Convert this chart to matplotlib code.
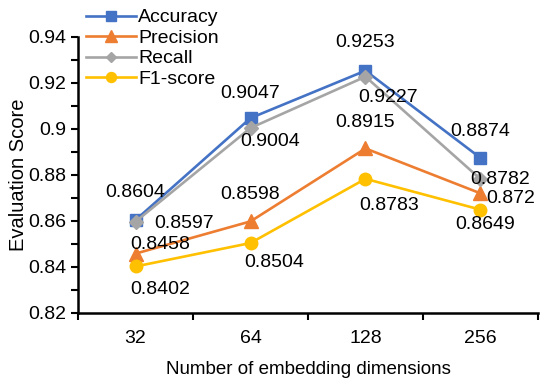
import numpy as np
import matplotlib.pyplot as plt
from matplotlib.ticker import MultipleLocator

plt.rcParams['font.family'] = ['Liberation Sans', 'DejaVu Sans']

dims = ['32', '64', '128', '256']
accuracy = [0.8604, 0.9047, 0.9253, 0.8874]
precision = [0.8458, 0.8598, 0.8915, 0.872]
recall = [0.8597, 0.9004, 0.9227, 0.8782]
f1 = [0.8402, 0.8504, 0.8783, 0.8649]

series = [
    ('Accuracy', accuracy, '#4472C4', 's', 9),
    ('Precision', precision, '#ED7D31', '^', 10),
    ('Recall', recall, '#A5A5A5', 'D', 7),
    ('F1-score', f1, '#FFC000', 'o', 9),
]

# label offsets (points) for each series / point
offsets = {
    'Accuracy': [(0, 20), (0, 18), (0, 20), (0, 19)],
    'Precision': [(18, 6.5), (0, 19), (0, 19), (22, -3.6)],
    'Recall': [(35, -1.5), (14, -10), (16, -15), (14, 0)],
    'F1-score': [(18, -16.5), (17, -14), (17, -19), (3.6, -11)],
}

fig = plt.figure(figsize=(5.5, 3.84), dpi=100)
ax = fig.add_axes([0.142, 0.185, 0.836, 0.719])

x = np.arange(len(dims))
for name, vals, col, mk, ms in series:
    ax.plot(x, vals, color=col, marker=mk, markersize=ms, linewidth=1.9, label=name)
    for i, v in enumerate(vals):
        dx, dy = offsets[name][i]
        ax.annotate(str(v), (x[i], v), xytext=(dx, dy), textcoords='offset points',
                    ha='center', va='center', fontsize=14)

ax.set_xlim(-0.5, 3.5)
ax.set_ylim(0.82, 0.94)
ax.set_xticks(x)
ax.set_xticklabels(dims)
ax.set_xticks(np.arange(-0.5, 4, 1), minor=True)
ax.tick_params(axis='x', which='major', length=0, pad=12, labelsize=14)
ax.tick_params(axis='x', which='minor', length=5, width=1.5, direction='out')
ax.yaxis.set_major_locator(MultipleLocator(0.02))
ax.yaxis.set_minor_locator(MultipleLocator(0.01))
ax.set_yticks([0.82, 0.84, 0.86, 0.88, 0.9, 0.92, 0.94])
ax.set_yticklabels(['0.82', '0.84', '0.86', '0.88', '0.9', '0.92', '0.94'])
ax.tick_params(axis='y', which='both', length=5, width=1.5, direction='out', labelsize=14)

for s in ['top', 'right']:
    ax.spines[s].set_visible(False)
for s in ['left', 'bottom']:
    ax.spines[s].set_linewidth(1.8)

ax.set_xlabel('Number of embedding dimensions', fontsize=13.5, labelpad=10)
ax.set_ylabel('Evaluation Score', fontsize=14.5, labelpad=0)

ax.legend(loc='upper left', bbox_to_anchor=(0.0, 1.13), frameon=False, fontsize=14,
          handlelength=2.6, labelspacing=0.15, handletextpad=0.1, borderaxespad=0,
          markerscale=0.8)

fig.savefig('out.png', dpi=100)
